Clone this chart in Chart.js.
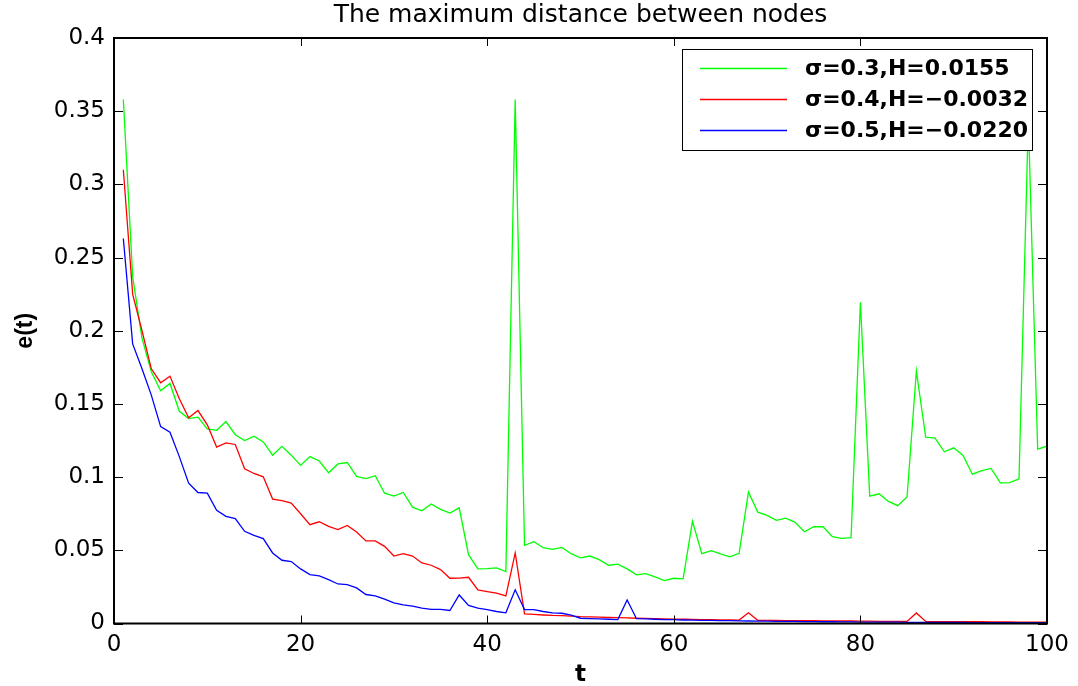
<!DOCTYPE html>
<html>
<head>
<meta charset="utf-8">
<script src="https://cdn.jsdelivr.net/npm/chart.js@4.4.1/dist/chart.umd.min.js"></script>
<style>
  html, body { margin: 0; padding: 0; background: #fff; }
  canvas { display: block; }
</style>
</head>
<body>
<canvas id="graphicDistance" width="1078" height="686"></canvas>
<script>
// datos del grafico
const steps = [1, 2, 3, 4, 5, 6, 7, 8, 9, 10, 11, 12, 13, 14, 15, 16, 17, 18, 19, 20,
  21, 22, 23, 24, 25, 26, 27, 28, 29, 30, 31, 32, 33, 34, 35, 36, 37, 38, 39, 40,
  41, 42, 43, 44, 45, 46, 47, 48, 49, 50, 51, 52, 53, 54, 55, 56, 57, 58, 59, 60,
  61, 62, 63, 64, 65, 66, 67, 68, 69, 70, 71, 72, 73, 74, 75, 76, 77, 78, 79, 80,
  81, 82, 83, 84, 85, 86, 87, 88, 89, 90, 91, 92, 93, 94, 95, 96, 97, 98, 99, 100];

const sigma03 = [0.358, 0.237, 0.195, 0.172, 0.159, 0.164, 0.145, 0.140, 0.141, 0.133,
  0.132, 0.138, 0.129, 0.125, 0.128, 0.124, 0.115, 0.121, 0.115, 0.108,
  0.114, 0.111, 0.103, 0.109, 0.110, 0.1005, 0.099, 0.101, 0.089, 0.087,
  0.0895, 0.0795, 0.077, 0.0816, 0.078, 0.0755, 0.079, 0.047, 0.0373, 0.0375,
  0.038, 0.0355, 0.358, 0.0534, 0.0559, 0.0518, 0.0507, 0.052, 0.0477, 0.0448,
  0.0461, 0.0436, 0.0398, 0.0405, 0.0373, 0.0332, 0.0341, 0.0318, 0.0293, 0.0309,
  0.0305, 0.0698, 0.0477, 0.0498, 0.0475, 0.0455, 0.048, 0.0898, 0.0761, 0.0739,
  0.0705, 0.072, 0.0691, 0.0627, 0.0661, 0.0661, 0.0593, 0.0582, 0.0586, 0.2195,
  0.087, 0.0886, 0.0834, 0.0805, 0.0864, 0.1725, 0.1273, 0.1266, 0.1173, 0.120,
  0.1148, 0.102, 0.1045, 0.1059, 0.0961, 0.0963, 0.0989, 0.345, 0.1191, 0.1211];

const sigma04 = [0.310, 0.225, 0.200, 0.174, 0.1645, 0.169, 0.1536, 0.1405, 0.1455, 0.1357,
  0.1205, 0.1234, 0.1223, 0.1057, 0.1025, 0.1002, 0.085, 0.084, 0.0823, 0.075,
  0.0675, 0.0695, 0.0664, 0.0641, 0.067, 0.0625, 0.0564, 0.0564, 0.0527, 0.0461,
  0.0477, 0.0461, 0.0414, 0.0398, 0.0368, 0.0309, 0.031, 0.0316, 0.023, 0.0218,
  0.0207, 0.0189, 0.0482, 0.0066, 0.0062, 0.0058, 0.0055, 0.0054, 0.0051, 0.0047,
  0.0045, 0.0043, 0.0041, 0.0040, 0.0038, 0.0036, 0.0035, 0.0033, 0.0031, 0.0030,
  0.0029, 0.0028, 0.0027, 0.0026, 0.0025, 0.0024, 0.0023, 0.0073, 0.0022, 0.0021,
  0.0021, 0.0020, 0.0020, 0.0019, 0.0019, 0.0018, 0.0018, 0.0017, 0.0017, 0.0016,
  0.0016, 0.0015, 0.0015, 0.0014, 0.0014, 0.0072, 0.0014, 0.0013, 0.0013, 0.0013,
  0.0012, 0.0012, 0.0012, 0.0011, 0.0011, 0.0011, 0.0010, 0.0010, 0.0010, 0.0010];

const sigma05 = [0.263, 0.191, 0.174, 0.156, 0.1345, 0.1307, 0.114, 0.0959, 0.0895, 0.0891,
  0.0773, 0.0732, 0.0716, 0.063, 0.0602, 0.058, 0.0482, 0.0432, 0.0423, 0.0373,
  0.0334, 0.0325, 0.030, 0.027, 0.0266, 0.0243, 0.0198, 0.0189, 0.0166, 0.0141,
  0.0127, 0.0118, 0.0105, 0.0097, 0.0097, 0.0089, 0.0195, 0.0123, 0.0105, 0.0095,
  0.0082, 0.0073, 0.023, 0.0095, 0.0095, 0.0082, 0.0073, 0.007, 0.0057, 0.0036,
  0.0033, 0.0031, 0.0029, 0.0027, 0.0161, 0.0033, 0.0031, 0.0029, 0.0027, 0.0026,
  0.0024, 0.0023, 0.0022, 0.0021, 0.0020, 0.0019, 0.0018, 0.0017, 0.0016, 0.0016,
  0.0015, 0.0014, 0.0014, 0.0013, 0.0013, 0.0012, 0.0012, 0.0011, 0.0011, 0.0010,
  0.0010, 0.0009, 0.0009, 0.0009, 0.0008, 0.0008, 0.0008, 0.0007, 0.0007, 0.0007,
  0.0007, 0.0006, 0.0006, 0.0006, 0.0006, 0.0005, 0.0005, 0.0005, 0.0005, 0.0005];

const seriesNames = ["σ=0.3,H=0.0155", "σ=0.4,H=−0.0032", "σ=0.5,H=−0.0220"];
const seriesColors = ["#00ff00", "#ff0000", "#0000ff"];
const xTicks = [0, 20, 40, 60, 80, 100];
const yTicks = [0, 0.05, 0.1, 0.15, 0.2, 0.25, 0.3, 0.35, 0.4];
const chartTitle = "The maximum distance between nodes";
const xLabel = "t";
const yLabel = "e(t)";

const tickFont = "DejaVu Sans";

function toPoints(values) {
  return values.map((v, i) => ({ x: steps[i], y: v }));
}

// marco, ticks interiores, titulo, etiquetas y leyenda estilo matlab
const matlabFrame = {
  id: "matlabFrame",
  afterDraw(chart) {
    const ctx = chart.ctx;
    const area = chart.chartArea;
    const xs = chart.scales.x;
    const ys = chart.scales.y;
    ctx.save();

    // ticks hacia adentro en los cuatro lados
    ctx.strokeStyle = "#000";
    ctx.lineWidth = 1;
    ctx.beginPath();
    xTicks.forEach((t) => {
      const px = Math.round(xs.getPixelForValue(t)) + 0.5;
      ctx.moveTo(px, area.bottom);
      ctx.lineTo(px, area.bottom - 8);
      ctx.moveTo(px, area.top);
      ctx.lineTo(px, area.top + 8);
    });
    yTicks.forEach((t) => {
      const py = Math.round(ys.getPixelForValue(t)) + 0.5;
      ctx.moveTo(area.left, py);
      ctx.lineTo(area.left + 9, py);
      ctx.moveTo(area.right, py);
      ctx.lineTo(area.right - 9, py);
    });
    ctx.stroke();

    // caja
    ctx.lineWidth = 2;
    ctx.strokeRect(area.left, area.top, area.right - area.left, area.bottom - area.top);

    // titulo
    ctx.fillStyle = "#000";
    ctx.font = "25px " + tickFont;
    ctx.textAlign = "center";
    ctx.textBaseline = "alphabetic";
    ctx.fillText(chartTitle, (area.left + area.right) / 2, 22);

    // etiqueta eje x
    ctx.font = "bold 23px " + tickFont;
    ctx.fillText(xLabel, (area.left + area.right) / 2, 681);

    // etiqueta eje y
    ctx.save();
    ctx.translate(32, (area.top + area.bottom) / 2);
    ctx.rotate(-Math.PI / 2);
    ctx.font = "bold 23px 'Liberation Sans'";
    ctx.fillText(yLabel, 0, 0);
    ctx.restore();

    // leyenda
    const box = { x: 682.5, y: 49.5, w: 350, h: 101 };
    ctx.fillStyle = "#fff";
    ctx.fillRect(box.x, box.y, box.w, box.h);
    ctx.lineWidth = 1;
    ctx.strokeStyle = "#000";
    ctx.strokeRect(box.x, box.y, box.w, box.h);
    const rows = [68.5, 99.5, 130.5];
    ctx.font = "bold 22px " + tickFont;
    ctx.textAlign = "left";
    ctx.textBaseline = "middle";
    seriesNames.forEach((name, i) => {
      ctx.strokeStyle = seriesColors[i];
      ctx.lineWidth = 1.3;
      ctx.beginPath();
      ctx.moveTo(700, rows[i]);
      ctx.lineTo(787, rows[i]);
      ctx.stroke();
      ctx.fillStyle = "#000";
      ctx.fillText(name, 805, rows[i] + 1);
    });
    ctx.restore();
  },
};

const chrt = document.getElementById("graphicDistance").getContext("2d");
new Chart(chrt, {
  type: "line",
  data: {
    datasets: [
      {
        label: seriesNames[0],
        data: toPoints(sigma03),
        borderColor: seriesColors[0],
        backgroundColor: seriesColors[0],
        borderWidth: 1.3,
        pointRadius: 0,
        order: 3,
      },
      {
        label: seriesNames[1],
        data: toPoints(sigma04),
        borderColor: seriesColors[1],
        backgroundColor: seriesColors[1],
        borderWidth: 1.3,
        pointRadius: 0,
        order: 2,
      },
      {
        label: seriesNames[2],
        data: toPoints(sigma05),
        borderColor: seriesColors[2],
        backgroundColor: seriesColors[2],
        borderWidth: 1.3,
        pointRadius: 0,
        order: 1,
      },
    ],
  },
  options: {
    responsive: false,
    animation: false,
    devicePixelRatio: 1,
    layout: {
      padding: { top: 38, right: 31, left: 0, bottom: 0 },
    },
    elements: {
      line: { tension: 0 },
    },
    plugins: {
      legend: { display: false },
      title: { display: false },
      tooltip: { enabled: false },
    },
    scales: {
      x: {
        type: "linear",
        min: 0,
        max: 100,
        afterBuildTicks: (scale) => {
          scale.ticks = xTicks.map((v) => ({ value: v }));
        },
        afterFit: (scale) => {
          scale.height = 62.5;
        },
        grid: { display: false, drawTicks: false },
        border: { display: false },
        ticks: {
          color: "#000",
          font: { family: tickFont, size: 23 },
          padding: 8,
          maxRotation: 0,
        },
      },
      y: {
        type: "linear",
        min: 0,
        max: 0.4,
        afterBuildTicks: (scale) => {
          scale.ticks = yTicks.map((v) => ({ value: v }));
        },
        afterFit: (scale) => {
          scale.width = 114;
        },
        grid: { display: false, drawTicks: false },
        border: { display: false },
        ticks: {
          color: "#000",
          font: { family: tickFont, size: 23 },
          padding: 9,
          callback: (v) => String(Number(v.toFixed(2))),
        },
      },
    },
  },
  plugins: [matlabFrame],
});
</script>
</body>
</html>
